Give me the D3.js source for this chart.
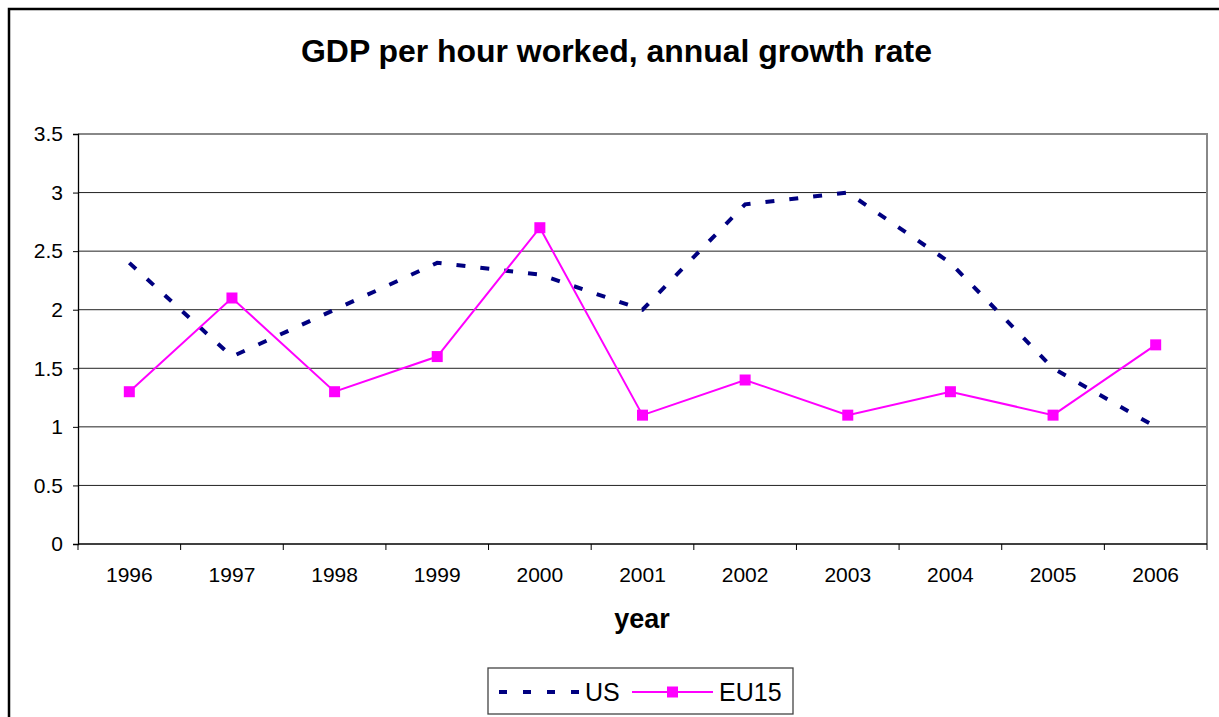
<!DOCTYPE html>
<html>
<head>
<meta charset="utf-8">
<script src="https://cdn.jsdelivr.net/npm/d3@7/dist/d3.min.js"></script>
<style>
  body { margin: 0; background: #fff; }
  text { font-family: "Liberation Sans", Arial, sans-serif; fill: #000; }
</style>
</head>
<body>
<svg id="chart" width="1219" height="717"></svg>
<script>
var years = ["1996", "1997", "1998", "1999", "2000", "2001", "2002", "2003", "2004", "2005", "2006"];
var usValues = [2.4, 1.6, 2.0, 2.4, 2.3, 2.0, 2.9, 3.0, 2.4, 1.5, 1.0];
var eu15Values = [1.3, 2.1, 1.3, 1.6, 2.7, 1.1, 1.4, 1.1, 1.3, 1.1, 1.7];
var yTicks = [0, 0.5, 1, 1.5, 2, 2.5, 3, 3.5];

var svg = d3.select("#chart");

// outer frame
svg.append("rect")
    .attr("x", 9).attr("y", 9)
    .attr("width", 1230).attr("height", 730)
    .attr("fill", "none")
    .attr("stroke", "#000")
    .attr("stroke-width", 2.5);

var plot = {left: 78, top: 134, right: 1207, bottom: 544};

var x = d3.scaleBand()
    .domain(years)
    .range([plot.left, plot.right]);

var y = d3.scaleLinear()
    .domain([0, 3.5])
    .range([plot.bottom, plot.top]);

// gridlines
svg.append("g")
    .selectAll("line")
    .data(yTicks.filter(function(d){ return d > 0 && d < 3.5; }))
    .enter().append("line")
    .attr("x1", plot.left).attr("x2", plot.right)
    .attr("y1", function(d){ return y(d); })
    .attr("y2", function(d){ return y(d); })
    .attr("stroke", "#222")
    .attr("stroke-width", 1);

// plot area border top / right
svg.append("path")
    .attr("d", "M" + plot.left + "," + plot.top + "H" + plot.right + "V" + plot.bottom)
    .attr("fill", "none")
    .attr("stroke", "#888")
    .attr("stroke-width", 2);

// y axis
var yAxis = svg.append("g")
    .attr("transform", "translate(" + plot.left + ",0)")
    .call(d3.axisLeft(y).tickValues(yTicks).tickSize(5).tickPadding(10)
        .tickFormat(function(d){ return String(d); }));
yAxis.select(".domain").attr("stroke", "#000").attr("stroke-width", 1.3);
yAxis.selectAll(".tick line").attr("stroke", "#000");
yAxis.selectAll("text").style("font-size", "21px").attr("fill", "#000");

// x axis (ticks between categories)
var xAxisG = svg.append("g")
    .attr("transform", "translate(0," + plot.bottom + ")");
xAxisG.append("line")
    .attr("x1", plot.left).attr("x2", plot.right)
    .attr("stroke", "#000").attr("stroke-width", 1.5);
xAxisG.selectAll(".sep")
    .data(years.concat(["end"]))
    .enter().append("line")
    .attr("x1", function(d, i){ return plot.left + i * x.step(); })
    .attr("x2", function(d, i){ return plot.left + i * x.step(); })
    .attr("y1", 0).attr("y2", 6)
    .attr("stroke", "#000");
xAxisG.selectAll(".lbl")
    .data(years)
    .enter().append("text")
    .attr("x", function(d){ return x(d) + x.bandwidth() / 2; })
    .attr("y", 38)
    .attr("text-anchor", "middle")
    .style("font-size", "21px")
    .text(function(d){ return d; });

// lines
var line = d3.line()
    .x(function(d, i){ return x(years[i]) + x.bandwidth() / 2; })
    .y(function(d){ return y(d); });

svg.append("path")
    .datum(usValues)
    .attr("d", line)
    .attr("fill", "none")
    .attr("stroke", "#000080")
    .attr("stroke-width", 4)
    .attr("stroke-dasharray", "9,15");

svg.append("path")
    .datum(eu15Values)
    .attr("d", line)
    .attr("fill", "none")
    .attr("stroke", "#ff00ff")
    .attr("stroke-width", 2);

svg.append("g")
    .selectAll("rect")
    .data(eu15Values)
    .enter().append("rect")
    .attr("x", function(d, i){ return x(years[i]) + x.bandwidth() / 2 - 5.5; })
    .attr("y", function(d){ return y(d) - 5.5; })
    .attr("width", 11).attr("height", 11)
    .attr("fill", "#ff00ff");

// title and axis title
svg.append("text")
    .attr("x", 301).attr("y", 62)
    .attr("textLength", 631)
    .attr("lengthAdjust", "spacingAndGlyphs")
    .style("font-size", "32px").style("font-weight", "bold")
    .text("GDP per hour worked, annual growth rate");

svg.append("text")
    .attr("x", 642).attr("y", 628)
    .attr("text-anchor", "middle")
    .style("font-size", "27px").style("font-weight", "bold")
    .text("year");

// legend
var legend = svg.append("g");
legend.append("rect")
    .attr("x", 488).attr("y", 668)
    .attr("width", 305).attr("height", 46)
    .attr("fill", "#fff")
    .attr("stroke", "#444").attr("stroke-width", 1.3);
legend.append("line")
    .attr("x1", 499).attr("x2", 581)
    .attr("y1", 692).attr("y2", 692)
    .attr("stroke", "#000080").attr("stroke-width", 4)
    .attr("stroke-dasharray", "8,16");
legend.append("text")
    .attr("x", 585).attr("y", 701)
    .style("font-size", "25px")
    .text("US");
legend.append("line")
    .attr("x1", 632).attr("x2", 713)
    .attr("y1", 692).attr("y2", 692)
    .attr("stroke", "#ff00ff").attr("stroke-width", 2);
legend.append("rect")
    .attr("x", 667).attr("y", 686.5)
    .attr("width", 11).attr("height", 11)
    .attr("fill", "#ff00ff");
legend.append("text")
    .attr("x", 719).attr("y", 701)
    .style("font-size", "25px")
    .text("EU15");
</script>
</body>
</html>
